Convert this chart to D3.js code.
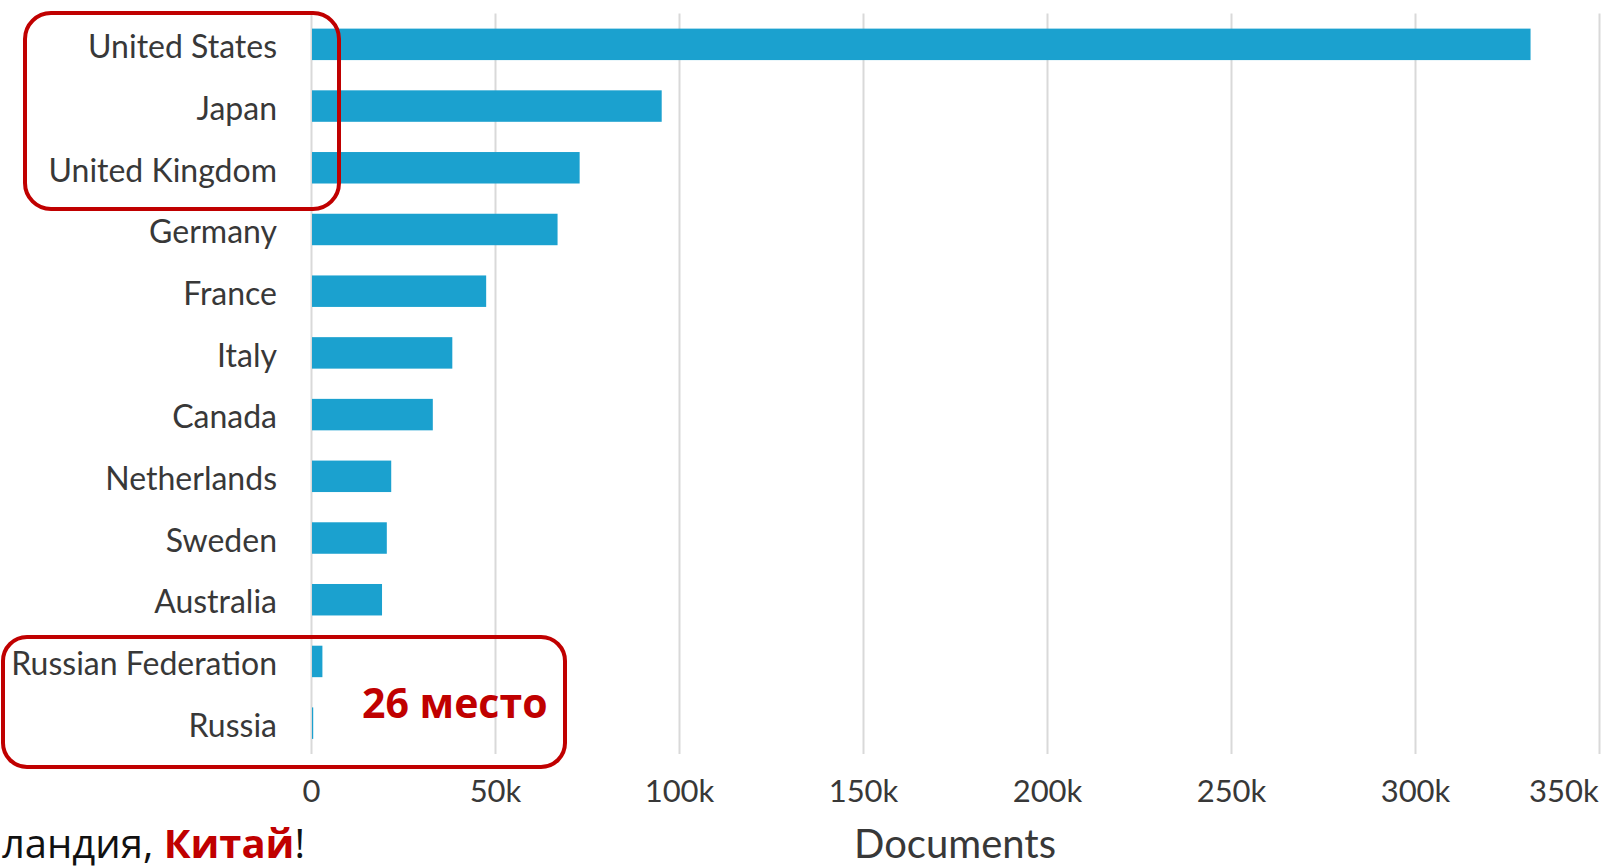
<!DOCTYPE html>
<html>
<head>
<meta charset="utf-8">
<script src="https://cdn.jsdelivr.net/npm/d3@7"></script>
<style>
  html, body { margin: 0; padding: 0; background: #fff; overflow: hidden; }
  svg { display: block; }
</style>
</head>
<body>
<svg id="chart" width="1601" height="866"></svg>
<script>
// Documents per country
const countries = [
  "United States", "Japan", "United Kingdom", "Germany", "France", "Italy",
  "Canada", "Netherlands", "Sweden", "Australia", "Russian Federation", "Russia"
];
const documents = [
  331400, 95300, 73000, 67000, 47600, 38400,
  33100, 21800, 20600, 19300, 3100, 600
];
const tickValues = [0, 50000, 100000, 150000, 200000, 250000, 300000, 350000];
const tickLabels = ["0", "50k", "100k", "150k", "200k", "250k", "300k", "350k"];
const axisTitle = "Documents";
const rankNote = "26 место";
const footerParts = [
  { text: "ландия, ", bold: false },
  { text: "Китай", bold: true },
  { text: "!", bold: false }
];

const W = 1601, H = 866;
const plot = { left: 311, right: 1599, top: 13.5, bottom: 754 };

const BAR = "#1ba1cf";
const GRID = "#d9d9d9";
const TEXT = "#383838";
const RED = "#c00000";
const LABEL_FONT = "Lato, 'Open Sans', sans-serif";

const svg = d3.select("#chart");

const x = d3.scaleLinear().domain([0, 350000]).range([plot.left, plot.right]);
const y = d3.scaleBand()
  .domain(countries)
  .range([plot.top, plot.bottom])
  .paddingInner(0.49)
  .paddingOuter(0.245);

// vertical gridlines
const grid = svg.append("g")
  .attr("transform", `translate(0,${plot.bottom})`)
  .call(d3.axisBottom(x)
    .tickValues(tickValues)
    .tickSize(-(plot.bottom - plot.top))
    .tickFormat(""));
grid.select(".domain").remove();
grid.selectAll(".tick line").attr("stroke", GRID).attr("stroke-width", 2);

// bars
svg.append("g")
  .selectAll("rect")
  .data(countries)
  .join("rect")
  .attr("x", x(0) + 1)
  .attr("y", d => y(d))
  .attr("width", (d, i) => Math.max(0, x(documents[i]) - x(0) - 1))
  .attr("height", y.bandwidth())
  .attr("fill", BAR);

// category labels
svg.append("g")
  .selectAll("text")
  .data(countries)
  .join("text")
  .attr("x", 277)
  .attr("y", d => y(d) + y.bandwidth() / 2)
  .attr("dy", "0.43em")
  .attr("text-anchor", "end")
  .attr("font-family", LABEL_FONT)
  .attr("font-size", 32)
  .attr("fill", TEXT)
  .text(d => d);

// x axis labels
const xAxis = svg.append("g")
  .attr("transform", `translate(0,${plot.bottom})`)
  .call(d3.axisBottom(x)
    .tickValues(tickValues)
    .tickSize(0)
    .tickPadding(26)
    .tickFormat((d, i) => tickLabels[i]));
xAxis.select(".domain").remove();
xAxis.selectAll("text")
  .attr("font-family", LABEL_FONT)
  .attr("font-size", 31)
  .attr("fill", TEXT);
// keep the last label inside the plot's right edge
xAxis.selectAll(".tick text").each(function () {
  const bb = this.getBBox();
  const tick = this.parentNode;
  const tx = +tick.getAttribute("transform").match(/translate\(([-\d.]+)/)[1];
  const overflow = tx + bb.x + bb.width - plot.right;
  if (overflow > 0) d3.select(this).attr("x", -overflow);
});

// axis title
svg.append("text")
  .attr("x", (plot.left + plot.right) / 2)
  .attr("y", 858)
  .attr("text-anchor", "middle")
  .attr("font-family", LABEL_FONT)
  .attr("font-size", 40)
  .attr("fill", TEXT)
  .text(axisTitle);

// highlight frames
const frames = svg.append("g").attr("fill", "none").attr("stroke", RED).attr("stroke-width", 4);
frames.append("rect")
  .attr("x", 25).attr("y", 13)
  .attr("width", 314).attr("height", 196)
  .attr("rx", 26).attr("ry", 26);
frames.append("rect")
  .attr("x", 3).attr("y", 637)
  .attr("width", 562).attr("height", 130)
  .attr("rx", 24).attr("ry", 24);

// rank note
svg.append("text")
  .attr("x", 362)
  .attr("y", 718)
  .attr("font-family", "'Open Sans', sans-serif")
  .attr("font-weight", 700)
  .attr("font-size", 41)
  .attr("fill", RED)
  .text(rankNote);

// footer line
const footer = svg.append("text")
  .attr("x", 305)
  .attr("y", 858)
  .attr("text-anchor", "end")
  .attr("font-family", "'Open Sans', sans-serif")
  .attr("font-size", 40)
  .attr("fill", "#111");
footer.selectAll("tspan")
  .data(footerParts)
  .join("tspan")
  .attr("font-weight", d => d.bold ? 700 : 400)
  .attr("fill", d => d.bold ? RED : "#111")
  .text(d => d.text);
</script>
</body>
</html>
